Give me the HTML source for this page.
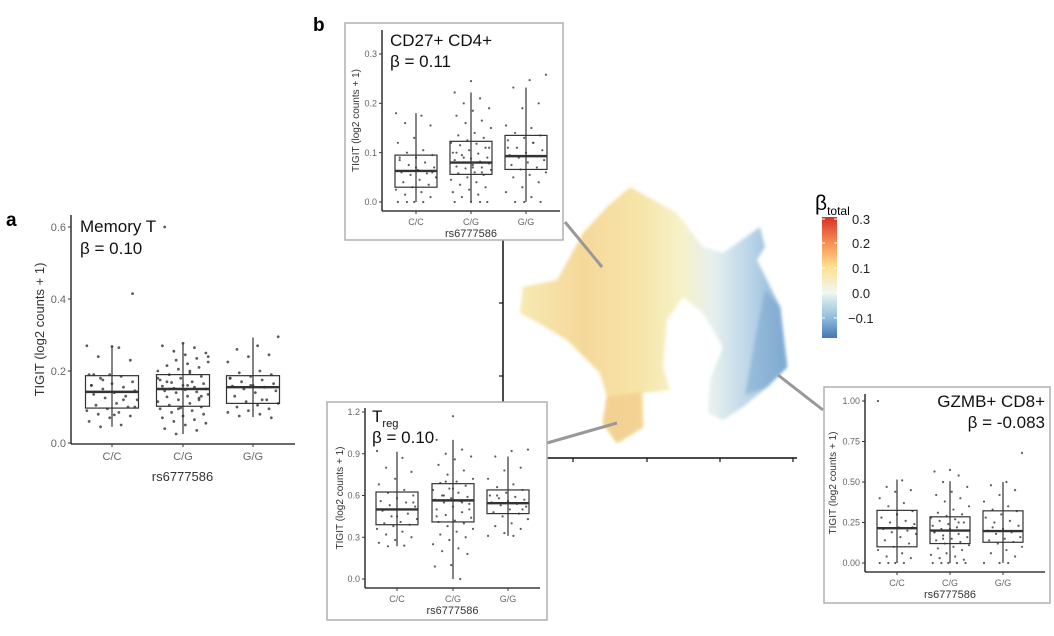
<!DOCTYPE html>
<html><head><meta charset="utf-8"><style>
html,body{margin:0;padding:0;background:#fff;width:1054px;height:636px;overflow:hidden}
svg{display:block;font-family:"Liberation Sans",sans-serif}
</style></head><body>
<svg id="fig" width="1054" height="636" viewBox="0 0 1054 636" xmlns="http://www.w3.org/2000/svg">
<defs>
<linearGradient id="umapGrad" x1="515" y1="0" x2="790" y2="0" gradientUnits="userSpaceOnUse">
<stop offset="0" stop-color="#f7ebb4"/><stop offset="0.25" stop-color="#f5d89a"/><stop offset="0.45" stop-color="#f6e4a8"/>
<stop offset="0.6" stop-color="#f7f2c8"/><stop offset="0.72" stop-color="#e6f0ee"/><stop offset="0.85" stop-color="#bcd6e8"/><stop offset="1" stop-color="#84afd6"/>
</linearGradient>
<linearGradient id="cbGrad" x1="0" y1="0" x2="0" y2="1">
<stop offset="0" stop-color="#d73027"/><stop offset="0.21" stop-color="#f88d52"/><stop offset="0.41" stop-color="#fde08e"/>
<stop offset="0.62" stop-color="#f1f7ef"/><stop offset="0.83" stop-color="#91bfdb"/><stop offset="1" stop-color="#4575b4"/>
</linearGradient>
<filter id="soft"><feGaussianBlur stdDeviation="1.6"/></filter>
</defs>
<g id="umap">
<path filter="url(#soft)" fill="url(#umapGrad)" d="M630,187 L677,213 L703,247 L723,253 L760,227 L765,247 L757,260 L767,280 L780,307 L787,367 L767,387 L743,407 L723,420 L708,413 L710,380 L723,347 L703,313 L683,297 L667,320 L663,367 L670,390 L643,393 L643,427 L617,443 L603,423 L607,397 L600,373 L567,340 L533,320 L520,313 L523,287 L557,280 L583,233 L607,207 Z"/>
<path filter="url(#soft)" fill="#f3cc8c" opacity="0.7" d="M607,397 L640,392 L643,427 L617,443 L603,423 Z"/>
<path filter="url(#soft)" fill="#6f9fcb" opacity="0.45" d="M765,290 L780,307 L787,367 L767,387 L745,395 L755,340 Z"/>
<line x1="503" y1="240" x2="503" y2="458" stroke="#111" stroke-width="1.5"/>
<line x1="503" y1="458" x2="797" y2="458" stroke="#111" stroke-width="1.5"/>
<g stroke="#111" stroke-width="1.2">
<line x1="499" y1="303" x2="503" y2="303"/><line x1="499" y1="376" x2="503" y2="376"/>
<line x1="573" y1="458" x2="573" y2="462"/><line x1="647" y1="458" x2="647" y2="462"/><line x1="720" y1="458" x2="720" y2="462"/><line x1="793" y1="458" x2="793" y2="462"/>
</g>
</g>
<g id="colorbar">
<text x="815" y="210" font-size="21">β<tspan font-size="12" dy="5">total</tspan></text>
<rect x="822" y="217" width="15" height="121" fill="url(#cbGrad)"/>
<g stroke="#fff" stroke-width="1"><line x1="822" y1="219" x2="825" y2="219"/><line x1="834" y1="219" x2="837" y2="219"/>
<line x1="822" y1="243" x2="825" y2="243"/><line x1="834" y1="243" x2="837" y2="243"/><line x1="822" y1="268" x2="825" y2="268"/><line x1="834" y1="268" x2="837" y2="268"/>
<line x1="822" y1="293" x2="825" y2="293"/><line x1="834" y1="293" x2="837" y2="293"/><line x1="822" y1="318" x2="825" y2="318"/><line x1="834" y1="318" x2="837" y2="318"/></g>
<g font-size="13" fill="#222"><text x="852" y="224">0.3</text><text x="852" y="248">0.2</text><text x="852" y="273">0.1</text><text x="852" y="298">0.0</text><text x="848" y="323">−0.1</text></g>
</g>
<g stroke="#999" stroke-width="3">
<line x1="565" y1="222" x2="602" y2="267"/><line x1="547" y1="443" x2="617" y2="423"/><line x1="778" y1="375" x2="823" y2="410"/>
</g>
<text x="6" y="226" font-size="19" font-weight="bold">a</text>
<text x="313" y="31" font-size="19" font-weight="bold">b</text>
<g id="panels"></g>
</svg>
<script>
// ---- Panel a: Memory T ----
const cats = ["C/C", "C/G", "G/G"];
const aQ1 = [0.097, 0.102, 0.110];
const aMed = [0.142, 0.150, 0.155];
const aQ3 = [0.187, 0.190, 0.187];
const aLo = [0.045, 0.025, 0.072];
const aHi = [0.270, 0.277, 0.293];
const aCC = [0.27,0.265,0.24,0.23,0.19,0.19,0.185,0.18,0.17,0.165,0.16,0.155,0.15,0.145,0.14,0.135,0.13,0.125,0.12,0.11,0.105,0.10,0.095,0.09,0.085,0.08,0.075,0.07,0.06,0.05,0.045,0.415,0.268,0.16,0.12,0.175,0.1,0.078,0.19];
const aCG = [0.277,0.27,0.265,0.255,0.25,0.245,0.6,0.235,0.23,0.225,0.22,0.215,0.21,0.205,0.2,0.195,0.19,0.185,0.18,0.175,0.17,0.168,0.165,0.16,0.158,0.155,0.152,0.15,0.148,0.145,0.142,0.14,0.135,0.13,0.128,0.125,0.12,0.115,0.11,0.105,0.1,0.098,0.095,0.09,0.085,0.08,0.075,0.07,0.065,0.06,0.055,0.05,0.04,0.035,0.025,0.24,0.16,0.17,0.12,0.095,0.18,0.2,0.15,0.13];
const aGG = [0.295,0.27,0.26,0.245,0.24,0.225,0.2,0.195,0.19,0.185,0.18,0.175,0.17,0.165,0.16,0.158,0.155,0.15,0.145,0.14,0.13,0.12,0.115,0.11,0.105,0.1,0.095,0.09,0.085,0.08,0.075,0.07,0.16,0.18,0.12];
// ---- Inset: CD27+ CD4+ ----
const bQ1 = [0.030, 0.056, 0.066];
const bMed = [0.063, 0.080, 0.093];
const bQ3 = [0.095, 0.123, 0.135];
const bLo = [0.0, 0.0, 0.0];
const bHi = [0.180, 0.222, 0.232];
const bCC = [0.18,0.175,0.16,0.155,0.13,0.12,0.105,0.1,0.095,0.09,0.085,0.08,0.075,0.07,0.065,0.06,0.058,0.055,0.05,0.045,0.04,0.035,0.03,0.025,0.02,0.015,0.01,0.0,0.0,0.0,0.0,0.06,0.07,0.09];
const bCG = [0.245,0.222,0.21,0.2,0.19,0.185,0.175,0.165,0.16,0.15,0.14,0.135,0.13,0.125,0.12,0.118,0.115,0.11,0.105,0.1,0.098,0.095,0.09,0.088,0.085,0.082,0.08,0.078,0.075,0.072,0.07,0.068,0.065,0.06,0.058,0.055,0.05,0.045,0.04,0.035,0.03,0.025,0.02,0.015,0.01,0.0,0.0,0.0,0.0,0.09,0.11,0.07,0.1,0.06];
const bGG = [0.258,0.247,0.232,0.2,0.19,0.155,0.15,0.14,0.135,0.13,0.125,0.12,0.11,0.105,0.1,0.095,0.093,0.09,0.085,0.08,0.075,0.07,0.066,0.06,0.055,0.05,0.04,0.03,0.02,0.01,0.0,0.0,0.0,0.11,0.12];
// ---- Inset: Treg ----
const cQ1 = [0.39, 0.41, 0.47];
const cMed = [0.50, 0.565, 0.545];
const cQ3 = [0.625, 0.685, 0.64];
const cLo = [0.235, 0.0, 0.31];
const cHi = [0.915, 1.0, 0.88];
const cCC = [0.92,0.87,0.8,0.77,0.72,0.68,0.64,0.62,0.6,0.58,0.56,0.55,0.53,0.52,0.5,0.49,0.47,0.45,0.43,0.41,0.4,0.39,0.38,0.36,0.34,0.32,0.3,0.28,0.26,0.24,0.235,0.55,0.45];
const cCG = [1.17,1.0,0.93,0.9,0.88,0.86,0.82,0.78,0.75,0.72,0.7,0.69,0.67,0.65,0.64,0.62,0.6,0.59,0.58,0.57,0.56,0.55,0.54,0.52,0.5,0.48,0.46,0.44,0.42,0.41,0.4,0.38,0.36,0.34,0.32,0.3,0.28,0.25,0.22,0.2,0.18,0.1,0.09,0.0,0.6,0.5,0.65,0.45,0.55,0.7];
const cGG = [0.93,0.92,0.88,0.8,0.78,0.72,0.68,0.66,0.64,0.62,0.6,0.59,0.58,0.57,0.56,0.55,0.54,0.53,0.52,0.5,0.48,0.47,0.45,0.43,0.4,0.38,0.36,0.33,0.31,0.31,0.6,0.5];
// ---- Inset: GZMB+ CD8+ ----
const dQ1 = [0.10, 0.12, 0.128];
const dMed = [0.215, 0.200, 0.197];
const dQ3 = [0.325, 0.285, 0.322];
const dLo = [0.0, 0.0, 0.0];
const dHi = [0.515, 0.505, 0.50];
const dCC = [1.0,0.51,0.47,0.45,0.44,0.4,0.37,0.35,0.32,0.3,0.28,0.26,0.25,0.24,0.22,0.21,0.2,0.19,0.18,0.16,0.14,0.12,0.1,0.08,0.06,0.04,0.03,0.0,0.0,0.0,0.0,0.22,0.3];
const dCG = [0.575,0.565,0.54,0.5,0.47,0.44,0.42,0.4,0.38,0.35,0.33,0.31,0.3,0.29,0.28,0.27,0.26,0.25,0.24,0.23,0.22,0.21,0.2,0.2,0.19,0.18,0.17,0.16,0.15,0.14,0.13,0.12,0.11,0.1,0.09,0.08,0.06,0.05,0.04,0.03,0.02,0.0,0.0,0.0,0.0,0.0,0.21,0.19,0.25,0.15];
const dGG = [0.68,0.5,0.48,0.45,0.42,0.38,0.35,0.33,0.32,0.3,0.28,0.26,0.25,0.23,0.21,0.2,0.19,0.18,0.16,0.15,0.14,0.13,0.12,0.1,0.08,0.06,0.04,0.0,0.0,0.0,0.22];

const NS = "http://www.w3.org/2000/svg";
const root = document.getElementById("panels");
function mk(tag, attrs, parent){const e=document.createElementNS(NS,tag);for(const k in attrs)e.setAttribute(k,attrs[k]);parent.appendChild(e);return e;}

function drawPanel(c){
  const g = mk("g",{},root);
  
  
  if(c.frame){
    const fr = mk("rect",{x:c.frame[0],y:c.frame[1],width:c.frame[2]-c.frame[0],height:c.frame[3]-c.frame[1],fill:"#fff",stroke:"#b0b0b0","stroke-width":1.5},g);
    
    
  }
  const y = v => c.y0 - (v - c.ticks[0]) / (c.ticks[c.ticks.length-1]-c.ticks[0]) * (c.y0 - c.yTop);
  const x = i => c.cx[i];
  const ya = mk("line",{x1:c.ax,y1:c.axTop,x2:c.ax,y2:c.axY,stroke:"#111","stroke-width":1.3},g);
  
  
  const xa = mk("line",{x1:c.ax,y1:c.axY,x2:c.axRight,y2:c.axY,stroke:"#111","stroke-width":1.3},g);
  
  
  c.ticks.forEach((t,i)=>{
    mk("line",{x1:c.ax-3,y1:y(t),x2:c.ax,y2:y(t),stroke:"#333","stroke-width":1},g);
    const tl = mk("text",{x:c.ax-5,y:y(t)+c.tfs*0.36,"font-size":c.tfs,fill:"#666","text-anchor":"end"},g);
    tl.textContent = c.tickLabels[i];
    
    
  });
  cats.forEach((cat,i)=>{
    mk("line",{x1:x(i),y1:c.axY,x2:x(i),y2:c.axY+3,stroke:"#333","stroke-width":1},g);
    const xl = mk("text",{x:x(i),y:c.axY+c.tfs+5,"font-size":c.tfs,fill:"#666","text-anchor":"middle"},g);
    xl.textContent = cat;
    
    
    const w = c.bw;
    const wk = mk("line",{x1:x(i),y1:y(c.lo[i]),x2:x(i),y2:y(c.hi[i]),stroke:"#333","stroke-width":1.2},g);
    
    
    const bx = mk("rect",{x:x(i)-w/2,y:y(c.q3[i]),width:w,height:y(c.q1[i])-y(c.q3[i]),fill:"none",stroke:"#333","stroke-width":1.2},g);
    
    
    const md = mk("line",{x1:x(i)-w/2,y1:y(c.med[i]),x2:x(i)+w/2,y2:y(c.med[i]),stroke:"#333","stroke-width":2.4},g);
    
    
    c.pts[i].forEach((v,j)=>{
      const jit = (((j*37+i*11)%23)/22 - 0.5) * w * 0.95;
      const p = mk("circle",{cx:x(i)+jit,cy:y(v),r:c.r,fill:"#333","fill-opacity":0.8},g);
      
      
    });
  });
  const xt = mk("text",{x:(c.cx[0]+c.cx[2])/2,y:c.xtY,"font-size":c.xfs,fill:"#333","text-anchor":"middle"},g);
  xt.textContent = "rs6777586";
  
  
  const yt = mk("text",{x:0,y:0,"font-size":c.yfs,fill:"#333","text-anchor":"middle",transform:`translate(${c.ytX},${(c.axTop+c.axY)/2}) rotate(-90)`},g);
  yt.textContent = "TIGIT (log2 counts + 1)";
  
  
  const t1 = mk("text",{x:c.titleX,y:c.title1Y,"font-size":c.titleFs,fill:"#111","text-anchor":c.anchor},g);
  if(c.sub){ t1.textContent = c.title; const ts=mk("tspan",{"font-size":c.titleFs*0.65,dy:5},t1); ts.textContent=c.sub; }
  else t1.textContent = c.title;
  
  
  const t2 = mk("text",{x:c.titleX,y:c.title2Y,"font-size":c.titleFs,fill:"#111","text-anchor":c.anchor},g);
  t2.textContent = c.beta;
  
  
}

drawPanel({name:"memory-t-boxplot",frame:null,ticks:[0,0.2,0.4,0.6],tickLabels:["0.0","0.2","0.4","0.6"],y0:443,yTop:227,
  ax:71,axTop:215,axY:444,axRight:295,cx:[112,183,253],bw:53,q1:aQ1,med:aMed,q3:aQ3,lo:aLo,hi:aHi,pts:[aCC,aCG,aGG],
  r:1.4,tfs:11,xfs:13,yfs:13,xtY:481,ytX:44,title:"Memory T",beta:"β = 0.10",titleX:80,title1Y:232,title2Y:254,titleFs:17,anchor:"start"});
drawPanel({name:"cd27-cd4-inset",frame:[345,23,563,240],ticks:[0,0.1,0.2,0.3],tickLabels:["0.0","0.1","0.2","0.3"],y0:202,yTop:54,
  ax:382,axTop:30,axY:211,axRight:560,cx:[416,471,526],bw:42,q1:bQ1,med:bMed,q3:bQ3,lo:bLo,hi:bHi,pts:[bCC,bCG,bGG],
  r:1.1,tfs:9,xfs:11,yfs:10,xtY:237,ytX:359,title:"CD27+ CD4+",beta:"β = 0.11",titleX:390,title1Y:46,title2Y:67,titleFs:17,anchor:"start"});
drawPanel({name:"treg-inset",frame:[327,402,547,620],ticks:[0,0.3,0.6,0.9,1.2],tickLabels:["0.0","0.3","0.6","0.9","1.2"],y0:579,yTop:412,
  ax:365,axTop:408,axY:588,axRight:540,cx:[397,453,508],bw:42,q1:cQ1,med:cMed,q3:cQ3,lo:cLo,hi:cHi,pts:[cCC,cCG,cGG],
  r:1.1,tfs:9,xfs:11,yfs:10,xtY:614,ytX:343,title:"T",sub:"reg",beta:"β = 0.10",titleX:372,title1Y:422,title2Y:443,titleFs:17,anchor:"start"});
drawPanel({name:"gzmb-cd8-inset",frame:[824,387,1050,603],ticks:[0,0.25,0.5,0.75,1.0],tickLabels:["0.00","0.25","0.50","0.75","1.00"],y0:563,yTop:401,
  ax:865,axTop:394,axY:572,axRight:1045,cx:[897,950,1003],bw:40,q1:dQ1,med:dMed,q3:dQ3,lo:dLo,hi:dHi,pts:[dCC,dCG,dGG],
  r:1.1,tfs:9,xfs:11,yfs:10,xtY:598,ytX:836,title:"GZMB+ CD8+",beta:"β = -0.083",titleX:1045,title1Y:407,title2Y:428,titleFs:17,anchor:"end"});
</script>
</body></html>
